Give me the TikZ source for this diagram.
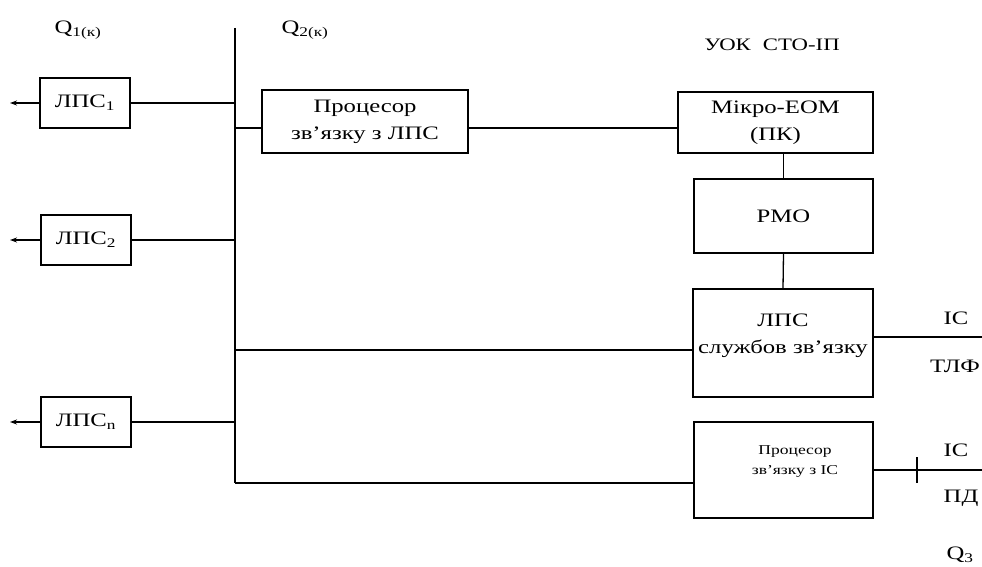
\documentclass[tikz,border=0pt]{standalone}
\usepackage{fontspec}
\setmainfont[FakeStretch=1.3]{Liberation Serif}
\usetikzlibrary{arrows.meta}
\begin{document}
\begin{tikzpicture}[x=1pt,y=-1pt,
  box/.style={draw,line width=1.4pt,inner sep=0pt,align=center,font=\fontsize{19}{27}\selectfont},
  lbl/.style={inner sep=0pt,font=\fontsize{19}{22}\selectfont},
  small/.style={inner sep=0pt,align=center,font=\fontsize{13.5}{20}\selectfont},
  ln/.style={line width=1.3pt},
  arr/.style={ln,-{Stealth[length=7pt,width=5pt]}}]
\useasboundingbox (0,0) rectangle (982,567);
% labels
\node[lbl] (q1) at (78,30) {Q\textsubscript{1(к)}};
\node[lbl] (q2) at (305,30) {Q\textsubscript{2(к)}};
\node[lbl,font=\fontsize{17.5}{20}\selectfont] (uok) at (772,45) {УОК\hspace{12pt}СТО-ІП};
% left boxes
\node[box,minimum width=90pt,minimum height=50pt] (l1) at (85,103) {ЛПС\textsubscript{1}};
\node[box,minimum width=90pt,minimum height=50pt] (l2) at (86,240) {ЛПС\textsubscript{2}};
\node[box,minimum width=90pt,minimum height=50pt] (ln) at (86,422) {ЛПС\textsubscript{n}};
\coordinate (a1) at (10,103);
\coordinate (a2) at (10,240);
\coordinate (an) at (10,422);
\draw[arr] (l1.west) -- (a1);
\draw[arr] (l2.west) -- (a2);
\draw[arr] (ln.west) -- (an);
% bus
\coordinate (btop) at (235,28);
\coordinate (bbot) at (235,483);
\draw[ln] (btop) -- (bbot);
\draw[ln] (l1.east) -- (l1.east -| btop);
\draw[ln] (l2.east) -- (l2.east -| btop);
\draw[ln] (ln.east) -- (ln.east -| btop);
% right blocks
\node[box,minimum width=206pt,minimum height=63pt] (p1) at (365,121.5) {Процесор\\зв'язку з ЛПС};
\node[box,minimum width=195pt,minimum height=61pt] (mk) at (775.5,122.5) {Мікро-ЕОМ\\(ПК)};
\node[box,minimum width=179pt,minimum height=74pt] (rmo) at (783.5,216) {РМО};
\node[box,minimum width=180pt,minimum height=108pt] (ls) at (783,343) {};
\node[box,draw=none] (lst) at (783,336) {ЛПС\\службов зв'язку};
\node[box,minimum width=179pt,minimum height=96pt] (pic) at (783.5,470) {};
\node[small] (pict) at (795,462) {Процесор\\зв'язку з ІС};
% connectors
\coordinate (b1) at (235,128);
\coordinate (b2) at (235,350);
\draw[ln] (b1) -- (b1 -| p1.west);
\draw[ln] (p1.east |- b1) -- (mk.west |- b1);
\draw[ln] (rmo.north) -- (rmo.north |- mk.south);
\draw[ln] (rmo.south) -- (ls.north);
\draw[ln] (b2) -- (b2 -| ls.west);
\draw[ln] (bbot) -- (bbot -| pic.west);
\coordinate (o1) at (982,337);
\coordinate (o2) at (982,470);
\draw[ln] (o1 -| ls.east) -- (o1);
\draw[ln] (o2 -| pic.east) -- (o2);
\coordinate (t1) at (917,457);
\coordinate (t2) at (917,483);
\draw[ln] (t1) -- (t2);
% outputs labels
\node[lbl] (ic1) at (956,318) {ІС};
\node[lbl,anchor=east] (tlf) at (980,366) {ТЛФ};
\node[lbl] (ic2) at (956,450) {ІС};
\node[lbl] (pd) at (961,498) {ПД};
\node[lbl] (q3) at (960,555) {Q\textsubscript{3}};
\end{tikzpicture}
\end{document}
